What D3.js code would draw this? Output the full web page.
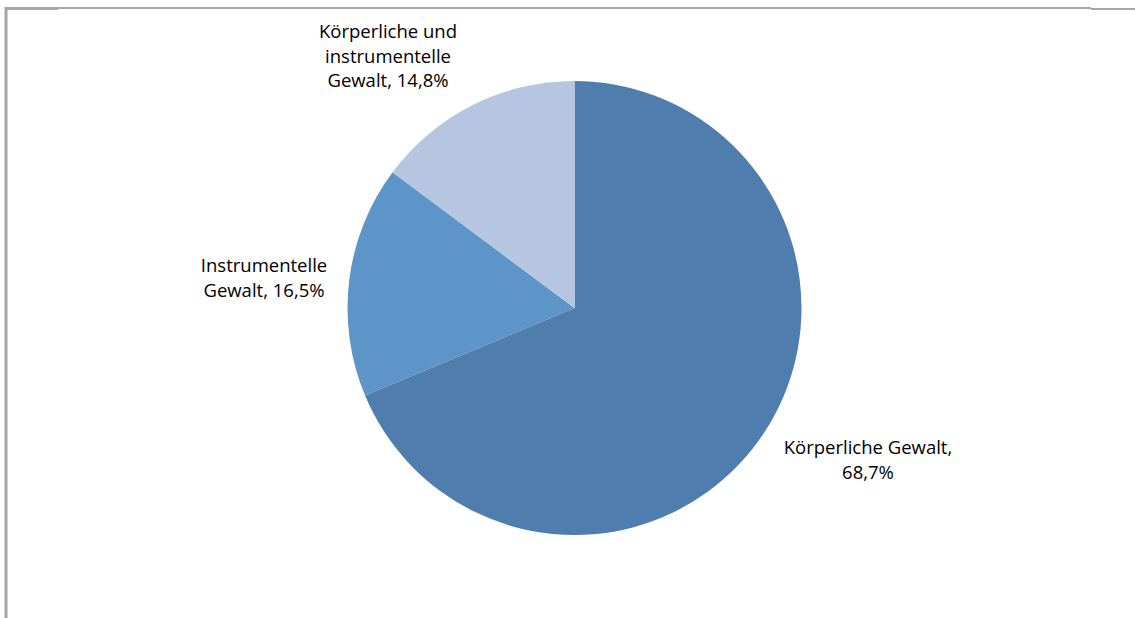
<html>
<head>
  <meta charset="utf-8">
  <title>Gewaltformen</title>
  <script src="https://d3js.org/d3.v7.min.js"></script>
  <style>
    body { margin: 0; background: white; }
    svg { display: block; }
  </style>
</head>
<body>
<script>
  // data
  const categories = ["Körperliche Gewalt", "Instrumentelle Gewalt", "Körperliche und instrumentelle Gewalt"];
  const values = [68.7, 16.5, 14.8];
  const labelLines = [
    ["Körperliche Gewalt,", "68,7%"],
    ["Instrumentelle", "Gewalt, 16,5%"],
    ["Körperliche und", "instrumentelle", "Gewalt, 14,8%"]
  ];
  const colors = ["#4F7DAE", "#5E95C9", "#B7C6E0"];

  const width = 1135, height = 618;
  const cx = 574.5, cy = 308, radius = 227;

  const svg = d3.select("body").append("svg")
    .attr("width", width)
    .attr("height", height);

  // frame lines (top + left)
  svg.append("line").attr("x1", 5).attr("x2", 58).attr("y1", 8.5).attr("y2", 8.5)
    .attr("stroke", "#a6a6a6").attr("stroke-width", 3);
  svg.append("line").attr("x1", 58).attr("x2", 1091).attr("y1", 8).attr("y2", 8)
    .attr("stroke", "#a6a6a6").attr("stroke-width", 2);
  svg.append("line").attr("x1", 1091).attr("x2", width).attr("y1", 9).attr("y2", 9)
    .attr("stroke", "#a6a6a6").attr("stroke-width", 2);
  svg.append("line").attr("x1", 6).attr("x2", 6).attr("y1", 7).attr("y2", height)
    .attr("stroke", "#a6a6a6").attr("stroke-width", 3);

  const data = categories.map((c, i) => ({ name: c, value: values[i], lines: labelLines[i], color: colors[i] }));

  const pie = d3.pie().sort(null).value(d => d.value);
  const arc = d3.arc().innerRadius(0).outerRadius(radius);

  const g = svg.append("g").attr("transform", `translate(${cx},${cy})`);
  const arcs = pie(data);

  g.selectAll("path")
    .data(arcs)
    .join("path")
    .attr("d", arc)
    .attr("fill", d => d.data.color);

  // label positions: outside the pie, relative to centre
  const labelPos = [
    { x: 868 - cx, y: 448 - cy },
    { x: 264 - cx, y: 266 - cy },
    { x: 388 - cx, y: 32 - cy }
  ];

  const lineH = 24.5;
  g.selectAll("text.lbl")
    .data(arcs)
    .join("text")
    .attr("class", "lbl")
    .attr("text-anchor", "middle")
    .attr("font-family", "'Open Sans', 'Noto Sans', sans-serif")
    .attr("font-size", 18.5)
    .attr("fill", "#000")
    .each(function (d, i) {
      const t = d3.select(this);
      d.data.lines.forEach((ln, k) => {
        t.append("tspan")
          .attr("x", labelPos[i].x)
          .attr("y", labelPos[i].y + k * lineH)
          .attr("dy", "0.35em")
          .text(ln);
      });
    });
</script>
</body>
</html>
